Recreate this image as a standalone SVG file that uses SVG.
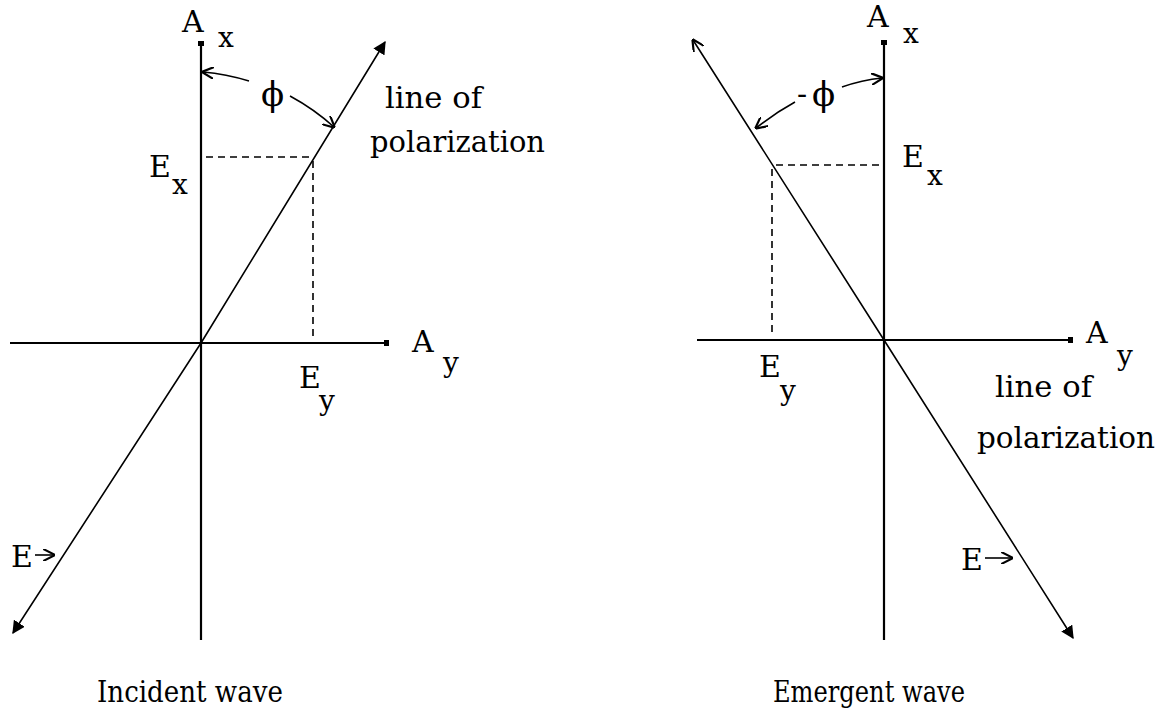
<svg xmlns="http://www.w3.org/2000/svg" width="1168" height="715" viewBox="0 0 1168 715">
<style>
text{font-family:"DejaVu Serif","Liberation Serif",serif;font-size:30px;fill:#000}
.sub{font-size:28px}
.phi{font-size:34px}
.axis{stroke:#000;stroke-width:2.2;fill:none}
.pol{stroke:#000;stroke-width:1.6;fill:none}
.dash{stroke:#000;stroke-width:1.6;stroke-dasharray:7 5;fill:none}
</style>
<defs>
<marker id="fill" viewBox="0 0 10 10" refX="9" refY="5" markerWidth="13" markerHeight="13" markerUnits="userSpaceOnUse" orient="auto-start-reverse">
<path d="M0,0 L10,5 L0,10 z" fill="#000"/>
</marker>
<marker id="open" viewBox="0 0 10 10" refX="9" refY="5" markerWidth="12" markerHeight="12" markerUnits="userSpaceOnUse" orient="auto-start-reverse">
<path d="M0,0 L10,5 L0,10" fill="none" stroke="#000" stroke-width="1.8"/>
</marker>
</defs>
<g id="connectors">
<line class="axis" x1="201" y1="43" x2="201" y2="640"/>
<line class="axis" x1="10" y1="343" x2="387" y2="343"/>
<rect x="198" y="41" width="6" height="5"/>
<rect x="384" y="340" width="5" height="6"/>
<polyline class="pol" points="13,633 201,343 385,42" marker-start="url(#fill)" marker-end="url(#fill)"/>
<line class="dash" x1="206" y1="157" x2="312" y2="157"/>
<line class="dash" x1="313" y1="161" x2="313" y2="339"/>
<path class="pol" d="M249,81 Q226,74 203,72" marker-end="url(#open)"/>
<path class="pol" d="M290,96 Q314,109 334,127" marker-end="url(#open)"/>
<line class="axis" x1="884" y1="42" x2="884" y2="640"/>
<line class="axis" x1="697" y1="340" x2="1071" y2="340"/>
<rect x="881" y="40" width="6" height="5"/>
<rect x="1068" y="337" width="5" height="6"/>
<polyline class="pol" points="693,40 884,340 1073,638" marker-start="url(#open)" marker-end="url(#fill)"/>
<line class="dash" x1="776" y1="165" x2="880" y2="165"/>
<line class="dash" x1="772" y1="169" x2="772" y2="336"/>
<path class="pol" d="M842,87 Q862,80 882,78" marker-end="url(#open)"/>
<path class="pol" d="M795,102 Q775,113 756,128" marker-end="url(#open)"/>
<line class="pol" x1="35" y1="555" x2="54" y2="555" marker-end="url(#open)"/>
<line class="pol" x1="985" y1="558" x2="1012" y2="558" marker-end="url(#open)"/>
</g>
<g id="left-labels">
<text x="182" y="32">A</text>
<text class="sub" x="218" y="47">x</text>
<text x="149" y="177">E</text>
<text class="sub" x="172" y="194">x</text>
<text x="299" y="388">E</text>
<text class="sub" x="319" y="410">y</text>
<text x="412" y="352">A</text>
<text class="sub" x="443" y="372">y</text>
<text class="phi" x="261" y="106">ϕ</text>
<text x="385" y="108" textLength="97" lengthAdjust="spacingAndGlyphs">line of</text>
<text x="370" y="152" textLength="175" lengthAdjust="spacingAndGlyphs">polarization</text>
<text x="11" y="567">E</text>
<text x="97" y="702" textLength="186" lengthAdjust="spacingAndGlyphs">Incident wave</text>
</g>
<g id="right-labels">
<text x="867" y="27">A</text>
<text class="sub" x="903" y="43">x</text>
<text x="902" y="167">E</text>
<text class="sub" x="927" y="185">x</text>
<text x="759" y="377">E</text>
<text class="sub" x="780" y="400">y</text>
<text x="1086" y="343">A</text>
<text class="sub" x="1117" y="365">y</text>
<text x="797" y="104">-</text>
<text class="phi" x="812" y="106">ϕ</text>
<text x="995" y="397" textLength="97" lengthAdjust="spacingAndGlyphs">line of</text>
<text x="977" y="448" textLength="178" lengthAdjust="spacingAndGlyphs">polarization</text>
<text x="961" y="570">E</text>
<text x="773" y="702" textLength="192" lengthAdjust="spacingAndGlyphs">Emergent wave</text>
</g>
</svg>
